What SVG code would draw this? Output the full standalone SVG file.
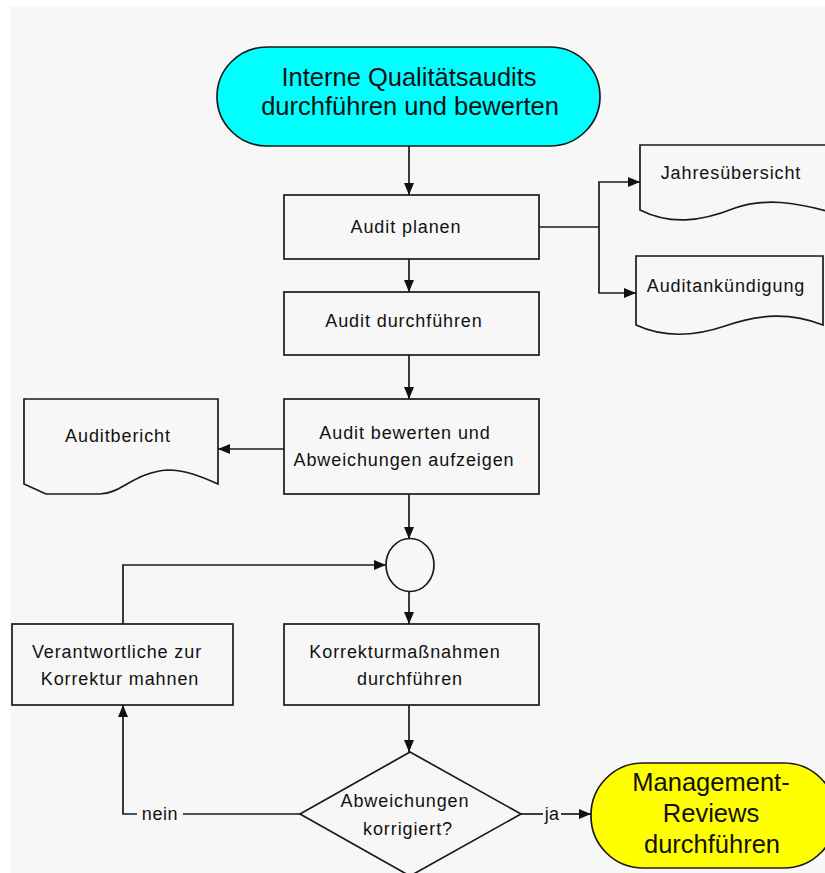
<svg xmlns="http://www.w3.org/2000/svg" width="825" height="873" viewBox="0 0 825 873">
<defs>
<marker id="arr" viewBox="0 0 12 10" refX="12" refY="5" markerWidth="12" markerHeight="11" markerUnits="userSpaceOnUse" orient="auto">
<path d="M0,0 L12,5 L0,10 Z" fill="#111"/>
</marker>
<style>
.box{fill:#f7f7f7;stroke:#1a1a1a;stroke-width:1.7}
.ln{fill:none;stroke:#1a1a1a;stroke-width:1.7}
.t{font-family:"Liberation Sans",Arial,sans-serif;font-size:18px;letter-spacing:0.9px;fill:#111;text-anchor:middle}
.big{font-family:"Liberation Sans",Arial,sans-serif;font-size:25.5px;fill:#111;text-anchor:middle}
</style>
</defs>
<rect x="0" y="0" width="825" height="873" fill="#ffffff"/>
<rect x="10" y="6" width="815" height="867" fill="#f7f7f7"/>

<g id="connectors">
<line class="ln" x1="409" y1="146" x2="409" y2="195" marker-end="url(#arr)"/>
<line class="ln" x1="409" y1="259" x2="409" y2="292" marker-end="url(#arr)"/>
<line class="ln" x1="409" y1="355" x2="409" y2="399" marker-end="url(#arr)"/>
<line class="ln" x1="409" y1="494" x2="409" y2="539" marker-end="url(#arr)"/>
<line class="ln" x1="409" y1="592" x2="409" y2="624" marker-end="url(#arr)"/>
<line class="ln" x1="409" y1="705" x2="409" y2="752" marker-end="url(#arr)"/>
<polyline class="ln" points="539,227 599,227"/>
<polyline class="ln" points="599,227 599,182 640,182" marker-end="url(#arr)"/>
<polyline class="ln" points="599,227 599,293 636,293" marker-end="url(#arr)"/>
<line class="ln" x1="284" y1="449" x2="218" y2="449" marker-end="url(#arr)"/>
<polyline class="ln" points="123,624 123,565 386,565" marker-end="url(#arr)"/>
<line class="ln" x1="300" y1="814" x2="183" y2="814"/>
<polyline class="ln" points="137,814 123,814 123,705" marker-end="url(#arr)"/>
<text class="t" x="160" y="820" style="letter-spacing:0.6px">nein</text>
<line class="ln" x1="521" y1="814" x2="543" y2="814"/>
<text class="t" x="552" y="820" style="letter-spacing:0.3px">ja</text>
<line class="ln" x1="561" y1="814" x2="591" y2="814" marker-end="url(#arr)"/>
</g>

<g id="start">
<rect x="217" y="47" width="383" height="99" rx="50" ry="49.5" fill="#00ffff" stroke="#1a1a1a" stroke-width="1.7"/>
<text class="big" x="409" y="86">Interne Qualitätsaudits</text>
<text class="big" x="410" y="115">durchführen und bewerten</text>
</g>

<g id="planen">
<rect class="box" x="284" y="195" width="255" height="64"/>
<text class="t" x="406" y="233">Audit planen</text>
</g>

<g id="durchfuehren">
<rect class="box" x="284" y="292" width="255" height="63"/>
<text class="t" x="404" y="327">Audit durchführen</text>
</g>

<g id="bewerten">
<rect class="box" x="284" y="399" width="255" height="95"/>
<text class="t" x="405" y="439">Audit bewerten und</text>
<text class="t" x="404" y="466">Abweichungen aufzeigen</text>
</g>

<g id="jahresuebersicht">
<path class="box" d="M640,145 H830 V212 C795,202 765,198 735,208 C700,222 670,225 640,210 Z"/>
<text class="t" x="731" y="179">Jahresübersicht</text>
</g>

<g id="auditankuendigung">
<path class="box" d="M636,256 H823 V325 C790,312 760,314 725,326 C690,338 660,336 636,325 Z"/>
<text class="t" x="726" y="292">Auditankündigung</text>
</g>

<g id="auditbericht">
<path class="box" d="M24,399 H218 V484 C200,476 185,470 168,470 C135,472 120,494 100,494 L46,494 L24,484 Z"/>
<text class="t" x="118" y="442">Auditbericht</text>
</g>

<g id="merge">
<ellipse class="box" cx="410" cy="565" rx="24" ry="26.5"/>
</g>

<g id="korrektur">
<rect class="box" x="284" y="624" width="255" height="81"/>
<text class="t" x="405" y="658">Korrekturmaßnahmen</text>
<text class="t" x="410" y="685">durchführen</text>
</g>

<g id="mahnen">
<rect class="box" x="12" y="624" width="221" height="81"/>
<text class="t" x="117" y="658">Verantwortliche zur</text>
<text class="t" x="120" y="685">Korrektur mahnen</text>
</g>

<g id="entscheidung">
<polygon class="box" points="410,752 521,814 410,876 300,814"/>
<text class="t" x="405" y="807">Abweichungen</text>
<text class="t" x="408" y="835">korrigiert?</text>
</g>

<g id="review">
<rect x="591" y="763" width="245" height="105" rx="52" ry="52" fill="#ffff00" stroke="#1a1a1a" stroke-width="1.7"/>
<text class="big" x="711" y="791">Management-</text>
<text class="big" x="711" y="822">Reviews</text>
<text class="big" x="712" y="853">durchführen</text>
</g>
</svg>
